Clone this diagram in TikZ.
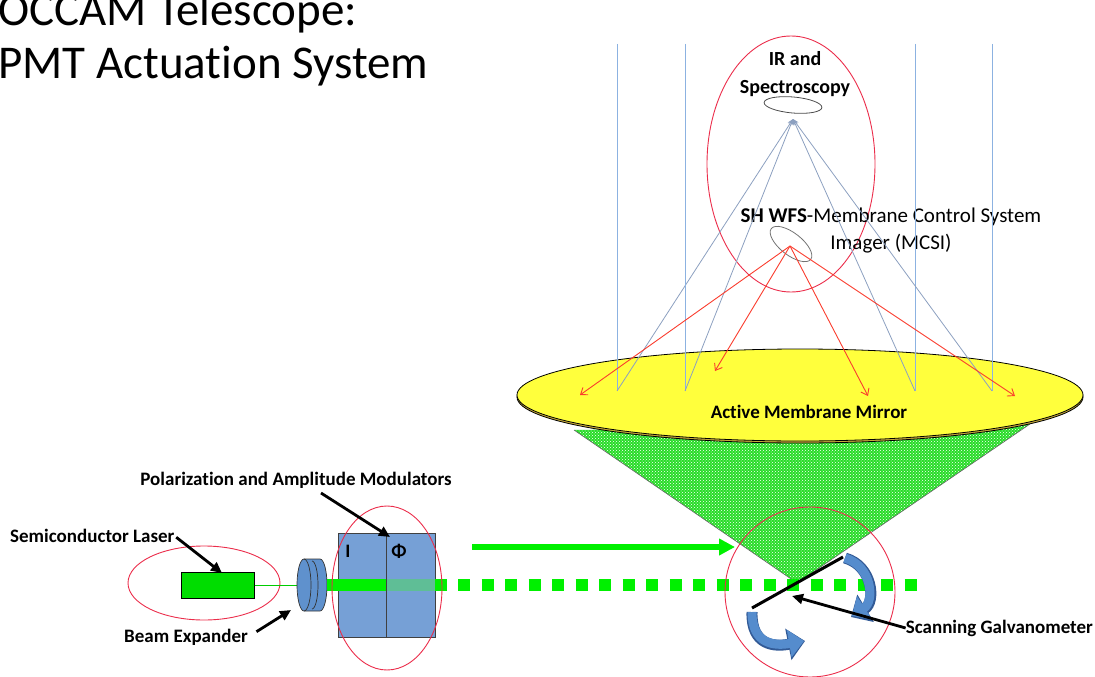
\documentclass[tikz,border=0pt]{standalone}
\usepackage{fontspec}
\setmainfont{Carlito}[Ligatures=NoCommon]
\usetikzlibrary{arrows.meta,positioning,patterns,shapes.geometric,calc}

\definecolor{ringred}{RGB}{235,45,75}
\definecolor{raylight}{RGB}{140,178,225}
\definecolor{raygrey}{RGB}{140,160,192}
\definecolor{rayred}{RGB}{250,60,45}
\definecolor{mirroryellow}{RGB}{255,255,60}
\definecolor{rimgold}{RGB}{200,170,60}
\definecolor{beamgreen}{RGB}{0,240,0}
\definecolor{beammuted}{RGB}{95,190,150}
\definecolor{conegreen}{RGB}{40,220,40}
\definecolor{boxblue}{RGB}{118,160,214}
\definecolor{lensblue}{RGB}{95,145,205}
\definecolor{galvoblue}{RGB}{85,140,205}
\definecolor{galvoedge}{RGB}{50,90,150}

\tikzset{
  >=stealth,
  lbl/.style    ={font=\fontsize{19}{22}\selectfont\bfseries, inner sep=0pt},
  ttl/.style    ={font=\fontsize{47}{53}\selectfont, inner sep=0pt, anchor=base west},
  ring/.style   ={draw=ringred, line width=0.9pt, ellipse, inner sep=0pt},
  inray/.style  ={raylight, line width=0.8pt},
  outray/.style ={raygrey, line width=0.8pt, -{Stealth[length=6pt,width=5pt]}},
  wfsray/.style ={rayred, line width=0.9pt, -{Straight Barb[length=6pt,width=9pt]}},
  callout/.style={-{Triangle[length=11pt,width=10pt]}, line width=2.8pt},
  modbox/.style ={draw=black!75, fill=boxblue, minimum height=104pt, inner sep=0pt},
  turn/.style   ={galvoblue, line width=9pt, -{Triangle[length=15pt,width=27pt]}},
  turnedge/.style={galvoedge, line width=11pt, -{Triangle[length=17pt,width=31pt]}},
}

\begin{document}
\begin{tikzpicture}[x=1pt,y=-1pt]
  \useasboundingbox (0,0) rectangle (1095,677);

  % title
  \node[ttl] (title1) at (-2,26) {OCCAM Telescope:};
  \node[ttl] (title2) at (-2,78) {PMT Actuation System};

  % cone swept by the galvanometer, under the mirror
  \coordinate (apex) at (797,583);
  \fill[conegreen] (574,430) -- (1030,424) -- (apex) -- cycle;
  \fill[pattern=crosshatch dots, pattern color=white] (574,430) -- (1030,424) -- (apex) -- cycle;
  \draw[black!60, line width=0.6pt] (574,430) -- (apex) -- (1030,424);

  % membrane mirror
  \node[ellipse, fill=rimgold, draw=black, line width=0.8pt, minimum width=566pt, minimum height=92pt, inner sep=0pt] (mirrorrim) at (800,397) {};
  \node[ellipse, fill=mirroryellow, draw=black, line width=0.8pt, minimum width=566pt, minimum height=92pt, inner sep=0pt] (mirror) at (800,395) {};
  \node[lbl] (mirrorlbl) at (809,412) {Active Membrane Mirror};

  % science camera and wavefront sensor
  \node[ring, minimum width=168pt, minimum height=256pt] (skyring) at (791,164) {};
  \node[ellipse, draw=black!70, line width=0.8pt, minimum width=58pt, minimum height=16pt, inner sep=0pt, rotate=-5] (specccd) at (793,105) {};
  \node[font=\fontsize{20}{28}\selectfont\bfseries, align=center, inner sep=0pt] (speclbl) at (795,74) {IR and\\Spectroscopy};
  \coordinate (focus) at (793,119);
  \node[ellipse, draw=black!55, line width=0.8pt, minimum width=50pt, minimum height=22pt, inner sep=0pt, rotate=-38] (mcsi) at (791,244) {};
  \coordinate (mcsipt) at (790,246);
  \node[font=\fontsize{21}{27}\selectfont, align=center, inner sep=0pt] (mcsilbl) at (891,231) {\textbf{SH WFS}-Membrane Control System\\Imager (MCSI)};

  % starlight onto the membrane and back up to the focus
  \foreach \x [count=\i] in {617,685,915,992} {
    \coordinate (top\i) at (\x,44);
    \coordinate (hit\i) at (\x,391);
    \draw[inray] (top\i) -- (hit\i);
    \draw[outray] (hit\i) -- (focus);
  }

  % sensor beams back onto the membrane
  \foreach \x/\y [count=\i] in {580/395, 715/371, 868/396, 1015/396} {
    \coordinate (wfs\i) at (\x,\y);
    \draw[wfsray] (mcsipt) -- (wfs\i);
  }

  % laser and beam expander
  \node[draw=black, fill=beamgreen!92!black, minimum width=73pt, minimum height=26pt, inner sep=0pt] (laser) at (218,585) {};
  \node[ring, minimum width=152pt, minimum height=74pt] (laserring) at (204,583) {};
  \coordinate (expander) at (297,585);
  \coordinate (expout) at (327,585);
  \draw[beamgreen!85!black, line width=0.6pt] (laser.east) -- (expander);
  \fill[lensblue] (304,559) -- (320,559) arc[start angle=-90, end angle=90, x radius=7, y radius=26]
    -- (304,611) arc[start angle=90, end angle=270, x radius=7, y radius=26] -- cycle;
  \draw[black!80, line width=0.7pt] (304,559) -- (320,559) arc[start angle=-90, end angle=90, x radius=7, y radius=26] -- (304,611);
  \draw[black!80, line width=0.7pt] (304,585) ellipse [x radius=7, y radius=26];
  \draw[black!80, line width=0.7pt] (312,561) arc[start angle=-90, end angle=90, x radius=6, y radius=24];

  % modulators
  \node[modbox, minimum width=48pt] (modI) at (362,585) {};
  \node[modbox, minimum width=49pt] (modPhi) at (410.5,585) {};
  \draw[beamgreen, line width=12pt] (expout) -- (modI.east);
  \draw[beammuted, line width=12pt] (modPhi.west) -- (modPhi.east);
  \draw[beamgreen, line width=12pt] (modPhi.east) -- (447,585);
  \draw[black!75, line width=0.4pt] (modI.north east) -- (modI.south east);
  \node[lbl] (ilbl) at (348,551) {I};
  \node[lbl] (philbl) at (399,551) {Φ};
  \node[ring, minimum width=110pt, minimum height=164pt] (modring) at (387,588) {};

  % modulated beam and sweep direction
  \draw[beamgreen, line width=12pt, dash pattern=on 12pt off 11.5pt] (458,585) -- (917,585);
  \coordinate (sweepstart) at (472,547);
  \coordinate (sweepend) at (735,547);
  \draw[beamgreen, line width=6pt, -{Triangle[length=16pt,width=16pt]}] (sweepstart) -- (sweepend);

  % galvanometer
  \node[ring, circle, minimum size=170pt] (galvoring) at (810,592) {};
  \coordinate (galvoA) at (752,608);
  \coordinate (galvoB) at (843,557);
  \draw[turnedge] (845,558) .. controls (873,566) and (876,602) .. (851,617);
  \draw[turn] (845,558) .. controls (872,566) and (875,601) .. (852,616);
  \draw[turnedge] (752,612) .. controls (751,646) and (775,647) .. (805,641);
  \draw[turn] (752,612) .. controls (752,645) and (775,646) .. (804,641);
  \draw[line width=3pt] (galvoA) -- (galvoB);

  % callouts
  \node[lbl, anchor=west] (laserlbl) at (10,536) {Semiconductor Laser};
  \coordinate (laserpt) at (222,573);
  \draw[callout, shorten <=2pt] (laserlbl.east) -- (laserpt);

  \node[lbl] (modlbl) at (296,480) {Polarization and Amplitude Modulators};
  \coordinate (modtail) at (321,493);
  \coordinate (modpt) at (390,537);
  \draw[callout] (modtail) -- (modpt);

  \node[lbl] (beamlbl) at (186,637) {Beam Expander};
  \coordinate (exppt) at (291,610);
  \draw[callout, shorten <=10pt] (beamlbl.east) -- (exppt);

  \node[lbl, anchor=east] (galvolbl) at (1093,628) {Scanning Galvanometer};
  \coordinate (galvopt) at (792,596);
  \draw[callout] (galvolbl.west) -- (galvopt);
\end{tikzpicture}
\end{document}
